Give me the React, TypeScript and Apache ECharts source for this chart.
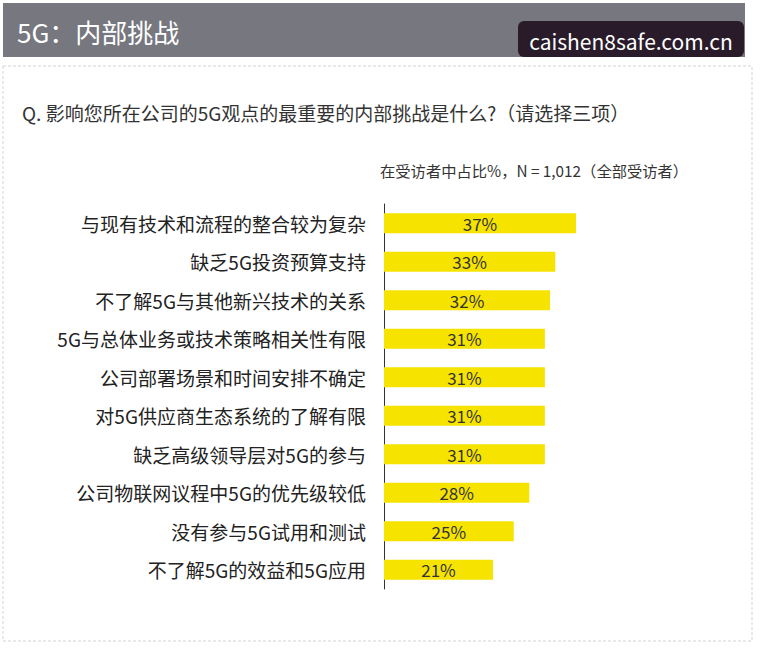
import React, { useEffect, useRef } from "react";
import * as echarts from "echarts";

const categories = [
  "与现有技术和流程的整合较为复杂",
  "缺乏5G投资预算支持",
  "不了解5G与其他新兴技术的关系",
  "5G与总体业务或技术策略相关性有限",
  "公司部署场景和时间安排不确定",
  "对5G供应商生态系统的了解有限",
  "缺乏高级领导层对5G的参与",
  "公司物联网议程中5G的优先级较低",
  "没有参与5G试用和测试",
  "不了解5G的效益和5G应用",
];
const values = [37, 33, 32, 31, 31, 31, 31, 28, 25, 21];

const FONT = "'Noto Sans CJK SC', 'Noto Sans', sans-serif";

export default function App() {
  const ref = useRef<HTMLDivElement>(null);
  useEffect(() => {
    const chart = echarts.init(ref.current!, undefined, { renderer: "svg" });
    chart.setOption({
      animation: false,
      backgroundColor: "#ffffff",
      textStyle: { fontFamily: FONT },
      graphic: [
        { type: "rect", shape: { x: 3, y: 3, width: 742, height: 54 }, style: { fill: "#77777f" }, z: 1 },
        { type: "text", x: 17, y: 31, style: { text: "5G：内部挑战", fill: "#ffffff", font: `400 26px ${FONT}`, textVerticalAlign: "middle" }, z: 2 },
        { type: "rect", shape: { x: 518, y: 21, width: 226, height: 36, r: 6 }, style: { fill: "#2a1b2b" }, z: 3 },
        { type: "text", x: 631, y: 41, style: { text: "caishen8safe.com.cn", fill: "#ffffff", font: `400 21px ${FONT}`, textAlign: "center", textVerticalAlign: "middle" }, z: 4 },
        { type: "rect", shape: { x: 3, y: 66, width: 749, height: 575 }, style: { fill: "none", stroke: "#cfd3d6", lineWidth: 1, lineDash: [3, 2] }, z: 1 },
        { type: "text", x: 22, y: 112, style: { text: "Q. 影响您所在公司的5G观点的最重要的内部挑战是什么?（请选择三项）", fill: "#333333", font: `400 19px ${FONT}`, textVerticalAlign: "middle" }, z: 2 },
        { type: "text", x: 380, y: 170, style: { text: "在受访者中占比%，N = 1,012（全部受访者）", fill: "#333333", font: `400 15.3px ${FONT}`, textVerticalAlign: "middle" }, z: 2 },
      ],
      grid: { left: 384, top: 204, height: 385, width: 207.6, containLabel: false },
      xAxis: {
        type: "value",
        min: 0,
        max: 40,
        show: false,
      },
      yAxis: {
        type: "category",
        data: categories,
        inverse: true,
        axisLine: { show: true, lineStyle: { color: "#333333", width: 1 } },
        axisTick: { show: false },
        axisLabel: { color: "#222222", fontSize: 19, fontFamily: FONT, margin: 18 },
      },
      series: [
        {
          type: "bar",
          data: values,
          barWidth: 20,
          itemStyle: { color: "#f6e400" },
          label: {
            show: true,
            position: "inside",
            formatter: "{c}%",
            color: "#333333",
            fontSize: 17,
            fontFamily: FONT,
          },
        },
      ],
    });
    return () => chart.dispose();
  }, []);
  return <div ref={ref} style={{ position: "fixed", left: 0, top: 0, width: 763, height: 650 }} />;
}
